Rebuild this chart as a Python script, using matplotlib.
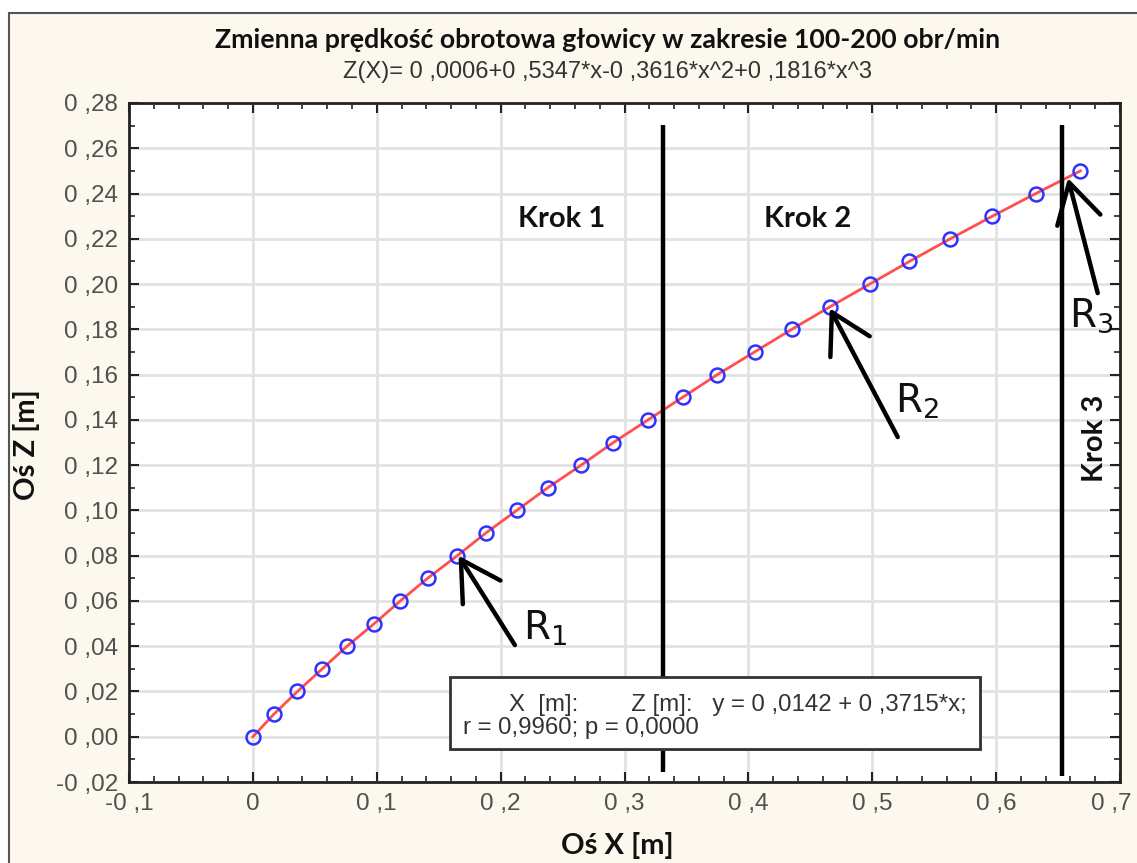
import matplotlib
matplotlib.use('Agg')
from matplotlib import pyplot as plt
from matplotlib import ticker
from matplotlib import transforms
from matplotlib.patches import Rectangle

# measured points (z = 0 .. 0.25 step 0.01)
x_points = [0.000, 0.017, 0.036, 0.056, 0.076, 0.098, 0.119, 0.141, 0.165, 0.188,
            0.213, 0.238, 0.265, 0.291, 0.319, 0.347, 0.375, 0.405, 0.435, 0.466,
            0.498, 0.530, 0.563, 0.597, 0.632, 0.668]
z_points = [0.00, 0.01, 0.02, 0.03, 0.04, 0.05, 0.06, 0.07, 0.08, 0.09,
            0.10, 0.11, 0.12, 0.13, 0.14, 0.15, 0.16, 0.17, 0.18, 0.19,
            0.20, 0.21, 0.22, 0.23, 0.24, 0.25]

step_bounds = [0.331, 0.653]
step_labels = ['Krok 1', 'Krok 2', 'Krok 3']

x_ticks = [-0.1, 0.0, 0.1, 0.2, 0.3, 0.4, 0.5, 0.6, 0.7]
x_tick_labels = ['-0 ,1', '0', '0 ,1', '0 ,2', '0 ,3', '0 ,4', '0 ,5', '0 ,6', '0 ,7']
y_ticks = [-0.02, 0.00, 0.02, 0.04, 0.06, 0.08, 0.10, 0.12, 0.14,
           0.16, 0.18, 0.20, 0.22, 0.24, 0.26, 0.28]
y_tick_labels = ['-0 ,02', '0 ,00', '0 ,02', '0 ,04', '0 ,06', '0 ,08', '0 ,10', '0 ,12',
                 '0 ,14', '0 ,16', '0 ,18', '0 ,20', '0 ,22', '0 ,24', '0 ,26', '0 ,28']

title = 'Zmienna prędkość obrotowa głowicy w zakresie 100-200 obr/min'
subtitle = 'Z(X)= 0 ,0006+0 ,5347*x-0 ,3616*x^2+0 ,1816*x^3'
legend_line1 = 'X  [m]:        Z [m]:   y = 0 ,0142 + 0 ,3715*x;'
legend_line2 = 'r = 0,9960; p = 0,0000'

plt.rcParams['mathtext.fontset'] = 'dejavusans'

cream = '#fcf8ee'
bold_font = ['Lato', 'DejaVu Sans']
arial = ['Liberation Sans', 'DejaVu Sans']

fig = plt.figure(figsize=(11.37, 8.63), dpi=100, facecolor='white')
fig.patches.append(Rectangle((9 / 1137, -0.1), 1.2, 1 - 13 / 863 + 0.1,
                             transform=fig.transFigure, facecolor=cream,
                             edgecolor='#555555', lw=1.5, zorder=-5))
ax = fig.add_axes([129 / 1137, 1 - 782 / 863, (1120 - 129) / 1137, (782 - 103) / 863])
ax.set_facecolor('white')

ax.set_xlim(-0.1, 0.7)
ax.set_ylim(-0.02, 0.28)
ax.set_xticks(x_ticks)
ax.set_xticklabels(x_tick_labels, family=arial, fontsize=17.5, color='#505050')
ax.set_yticks(y_ticks)
ax.set_yticklabels(y_tick_labels, family=arial, fontsize=17.5, color='#505050')
ax.xaxis.set_minor_locator(ticker.MultipleLocator(0.02))
ax.yaxis.set_minor_locator(ticker.MultipleLocator(0.01))
ax.tick_params(which='both', direction='in', top=True, right=True, color='#222222')
ax.tick_params(which='major', length=7, width=1.5, pad=8)
ax.tick_params(which='minor', length=4, width=1.2)
for s in ax.spines.values():
    s.set_linewidth(2)
    s.set_color('#222222')
ax.grid(True, which='major', color='#e2e2e2', lw=2)
ax.set_axisbelow(True)

# last x label sits at the right edge, nudge it inside
last = ax.get_xticklabels()[-1]
last.set_transform(last.get_transform() +
                   transforms.ScaledTranslation(-6 / 72, 0, fig.dpi_scale_trans))

# fit line through the points and markers
ax.plot(x_points, z_points, color='#ff5050', lw=2, zorder=3)
ax.plot(x_points, z_points, 'o', ms=10, mfc='none', mec='#3030ff', mew=1.8, zorder=4)

# step boundaries
ax.vlines(step_bounds[0], -0.0156, 0.2703, color='black', lw=3.2, zorder=5)
ax.vlines(step_bounds[1], -0.0174, 0.2703, color='black', lw=3.2, zorder=5)

ax.text(0.2495, 0.2287, step_labels[0], family=bold_font, weight='bold', fontsize=21,
        ha='center', va='center', color='#111111')
ax.text(0.448, 0.2287, step_labels[1], family=bold_font, weight='bold', fontsize=21,
        ha='center', va='center', color='#111111')
ax.text(0.680, 0.132, step_labels[2], family=bold_font, weight='bold', fontsize=21,
        ha='center', va='center', rotation=90, color='#111111')

# arrows R1..R3
arrow = dict(arrowstyle='->,head_length=1.4,head_width=0.8', lw=3.2, color='black',
             mutation_scale=20, shrinkA=0, shrinkB=0)
ax.annotate('', xy=(0.166, 0.080), xytext=(0.2115, 0.0405), arrowprops=arrow, zorder=6)
ax.annotate('', xy=(0.4657, 0.1893), xytext=(0.5206, 0.1324), arrowprops=arrow, zorder=6)
ax.annotate('', xy=(0.658, 0.2468), xytext=(0.682, 0.196), arrowprops=arrow, zorder=6)
ax.text(0.218, 0.0427, r'R$_{\rm 1}$', fontsize=28, va='baseline', color='#111111')
ax.text(0.518, 0.143, r'R$_{\rm 2}$', fontsize=28, va='baseline', color='#111111')
ax.text(0.659, 0.181, r'R$_{\rm 3}$', fontsize=28, va='baseline', color='#111111')

# regression box
ax.add_patch(Rectangle((0.161, -0.0065), 0.428, 0.0329, facecolor='#999999',
                       edgecolor='none', zorder=6))
ax.add_patch(Rectangle((0.159, -0.0054), 0.428, 0.0318, facecolor='white',
                       edgecolor='#333333', lw=2, zorder=7))
ax.text(0.207, 0.0142, legend_line1, family=arial, fontsize=17.3, va='center',
        color='#333333', zorder=8)
ax.text(0.170, 0.0040, legend_line2, family=arial, fontsize=17.3, va='center',
        color='#333333', zorder=8)

fig.text(0.534, 1 - 40 / 863, title, family=bold_font, weight='bold', fontsize=19.3,
         ha='center', va='center', color='#111111')
fig.text(0.534, 1 - 72 / 863, subtitle, family=arial, fontsize=17,
         ha='center', va='center', color='#333333')
fig.text(26 / 1137, 1 - 445 / 863, 'Oś Z [m]', family=bold_font, weight='bold',
         fontsize=21, rotation=90, ha='center', va='center', color='#111111')
fig.text(617 / 1137, 1 - 845 / 863, 'Oś X [m]', family=bold_font, weight='bold',
         fontsize=21, ha='center', va='center', color='#111111')

fig.savefig('out.png', dpi=100, facecolor=fig.get_facecolor())
